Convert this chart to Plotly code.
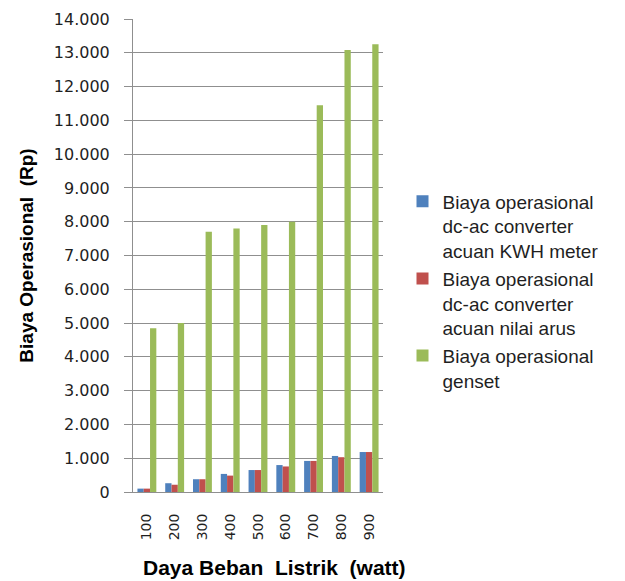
import plotly.graph_objects as go

categories = ["100", "200", "300", "400", "500", "600", "700", "800", "900"]
kwh_meter = [100, 260, 378, 535, 650, 797, 920, 1067, 1183]
nilai_arus = [100, 215, 378, 485, 650, 756, 920, 1030, 1183]
genset = [4850, 5000, 7700, 7800, 7900, 8000, 11450, 13080, 13250]

series_names = [
    "Biaya operasional<br>dc-ac converter<br>acuan KWH meter",
    "Biaya operasional<br>dc-ac converter<br>acuan nilai arus",
    "Biaya operasional<br>genset",
]
colors = ["#4F81BD", "#C0504D", "#9BBB59"]
y_ticks = list(range(0, 14001, 1000))
x_title = "Daya Beban  Listrik  (watt)"
y_title = "Biaya Operasional  (Rp)"

fig = go.Figure()
for i, (name, vals, col) in enumerate(zip(series_names, [kwh_meter, nilai_arus, genset], colors)):
    fig.add_trace(go.Bar(x=categories, y=vals, name=name, marker_color=col,
                         marker_line_width=0, legendgroup=f"g{i}"))

gray = "#8f8f8f"
fig.update_layout(
    width=617, height=573,
    margin=dict(l=125, r=242, t=11, b=89),
    paper_bgcolor="white", plot_bgcolor="white",
    barmode="group", bargap=0.32, bargroupgap=0,
    separators=",.",
    font=dict(family="DejaVu Sans", color="#1f1f1f"),
    legend=dict(x=1.078, y=0.425, xanchor="left", yanchor="middle",
                font=dict(family="Liberation Sans, Arial", size=19, color="#1f1f1f"),
                valign="top", tracegroupgap=8, itemwidth=30, traceorder="normal"),
    showlegend=True,
)
fig.add_annotation(
    text=f"<b>{x_title}</b>", xref="paper", yref="paper",
    x=0.564, y=-0.1586, xanchor="center", yanchor="middle", showarrow=False,
    font=dict(family="Liberation Sans, Arial", size=21, color="#000"),
)
fig.update_xaxes(
    type="category", tickangle=-90, tickfont=dict(size=14),
    showline=True, linecolor=gray, linewidth=1, ticks="", showgrid=False,
    ticklabelstandoff=15, automargin=False,
)
fig.update_yaxes(
    range=[0, 14000], tickvals=y_ticks, tickformat=",.0f",
    tickfont=dict(size=16),
    showgrid=True, gridcolor=gray, gridwidth=1,
    showline=True, linecolor=gray, linewidth=1,
    ticks="outside", ticklen=8, tickcolor=gray,
    ticklabelstandoff=11, zeroline=False, automargin=False,
    title=dict(text=f"<b>{y_title}</b>", standoff=15,
               font=dict(family="Liberation Sans, Arial", size=19, color="#000")),
)

fig.write_html("out.html")
